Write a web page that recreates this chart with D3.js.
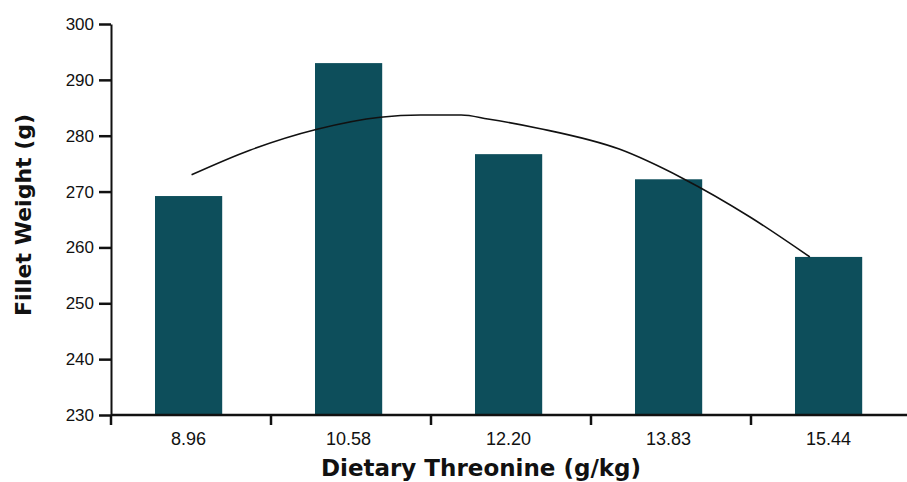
<!DOCTYPE html>
<html>
<head>
<meta charset="utf-8">
<script src="https://cdn.jsdelivr.net/npm/d3@7"></script>
<style>
  body { margin: 0; background: #fff; }
  svg { display: block; }
  .title { font-family: "DejaVu Sans", sans-serif; font-weight: bold; fill: #111; }
</style>
</head>
<body>
<svg id="chart" width="907" height="482"></svg>
<script>
// threonine levels (g/kg) and fillet weights (g)
var levels = ['8.96', '10.58', '12.20', '13.83', '15.44'];
var weights = [269.2, 293.0, 276.7, 272.2, 258.3];
var yTicks = [230, 240, 250, 260, 270, 280, 290, 300];

// fitted trend
var trendX = [8.99, 9.58, 10.26, 10.90, 11.31, 11.72, 11.99, 12.51, 13.32, 13.96, 14.64, 15.25];
var trendY = [273.0, 277.4, 281.15, 283.3, 283.7, 283.7, 283.0, 281.3, 277.6, 272.4, 265.5, 258.3];

var svg = d3.select('#chart');
var plotLeft = 111, plotRight = 911, plotTop = 24, plotBottom = 415;

var x = d3.scaleBand().domain(levels).range([plotLeft, plotRight]).padding(0);
var y = d3.scaleLinear().domain([230, 300]).range([plotBottom, plotTop]);

var step = x.bandwidth();
var barInset = step * 0.275;
var barW = step * 0.42;
var barMid = function(d) { return x(d) + barInset + barW / 2; };

// continuous threonine scale lined up with the bar centres
var xt = d3.scaleLinear()
  .domain([+levels[0], +levels[levels.length - 1]])
  .range([barMid(levels[0]), barMid(levels[levels.length - 1])]);

svg.selectAll('rect.bar')
  .data(levels)
  .enter().append('rect')
  .attr('class', 'bar')
  .attr('x', function(d) { return x(d) + barInset; })
  .attr('width', barW)
  .attr('y', function(d, i) { return y(weights[i]); })
  .attr('height', function(d, i) { return plotBottom - y(weights[i]); })
  .attr('fill', '#0d4e5b');

var line = d3.line()
  .x(function(d) { return xt(d[0]); })
  .y(function(d) { return y(d[1]); })
  .curve(d3.curveMonotoneX);

svg.append('path')
  .datum(d3.zip(trendX, trendY))
  .attr('d', line)
  .attr('fill', 'none')
  .attr('stroke', '#111')
  .attr('stroke-width', 1.6);

// y axis
var yAxis = svg.append('g')
  .attr('transform', 'translate(' + plotLeft + ',0)')
  .call(d3.axisLeft(y).tickValues(yTicks).tickSize(12).tickPadding(5).tickSizeOuter(0));
yAxis.select('.domain').attr('stroke-width', 2).attr('stroke', '#111');
yAxis.selectAll('.tick line').attr('stroke-width', 2.5).attr('stroke', '#111');
yAxis.selectAll('.tick text')
  .style('font-family', '"Liberation Sans", Arial, sans-serif')
  .style('font-size', '17px')
  .style('fill', '#111');

// x axis: ticks sit on the band edges
var edges = levels.map(function(d) { return x(d); });
var xAxisG = svg.append('g');
xAxisG.append('line')
  .attr('x1', plotLeft).attr('x2', plotRight)
  .attr('y1', plotBottom).attr('y2', plotBottom)
  .attr('stroke', '#111').attr('stroke-width', 2.5);
xAxisG.selectAll('line.xtick')
  .data(edges)
  .enter().append('line')
  .attr('class', 'xtick')
  .attr('x1', function(d) { return d; }).attr('x2', function(d) { return d; })
  .attr('y1', plotBottom).attr('y2', plotBottom + 10)
  .attr('stroke', '#111').attr('stroke-width', 2.5);
xAxisG.selectAll('text')
  .data(levels)
  .enter().append('text')
  .attr('x', function(d) { return barMid(d); })
  .attr('y', plotBottom + 30)
  .attr('text-anchor', 'middle')
  .style('font-family', '"Liberation Sans", Arial, sans-serif')
  .style('font-size', '18px')
  .style('fill', '#111')
  .text(function(d) { return d; });

svg.append('text')
  .attr('class', 'title')
  .attr('x', 481)
  .attr('y', 476)
  .attr('text-anchor', 'middle')
  .style('font-size', '23px')
  .text('Dietary Threonine (g/kg)');

svg.append('text')
  .attr('class', 'title')
  .attr('transform', 'translate(31,215) rotate(-90)')
  .attr('text-anchor', 'middle')
  .style('font-size', '22px')
  .text('Fillet Weight (g)');
</script>
</body>
</html>
